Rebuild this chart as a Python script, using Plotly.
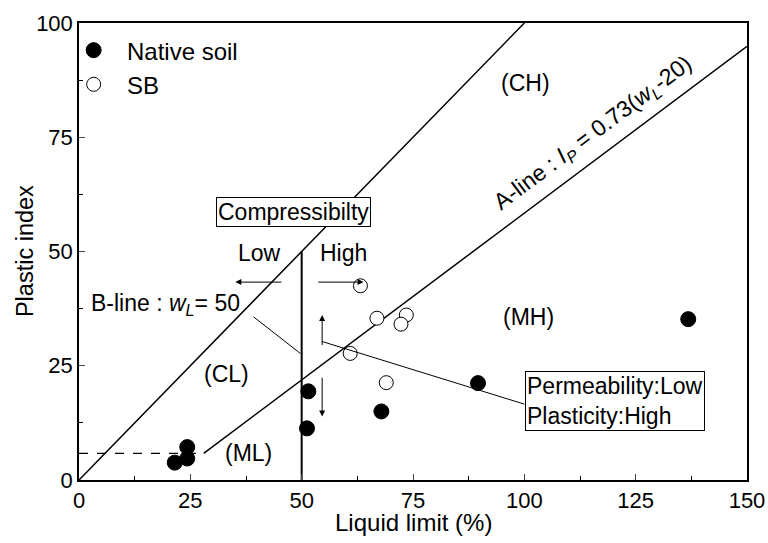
import plotly.graph_objects as go
import numpy as np

# Data
native_ll = [21.5, 24.3, 24.3, 51.2, 51.5, 67.9, 89.6, 136.8]
native_pi = [3.8, 7.2, 4.7, 11.3, 19.4, 15.0, 21.2, 35.2]
sb_ll = [63.2, 66.9, 73.5, 72.3, 60.9, 69.0]
sb_pi = [42.5, 35.4, 36.1, 34.1, 27.7, 21.3]

x_ticks = [0, 25, 50, 75, 100, 125, 150]
y_ticks = [0, 25, 50, 75, 100]

FONT = "Liberation Sans, Arial, sans-serif"
FS = 23
TFS = 22

fig = go.Figure()

# U-like line: I_P = w_L
ux = np.array([0, 100])
fig.add_trace(go.Scatter(x=ux, y=ux, mode="lines", line=dict(color="black", width=1.5),
                         showlegend=False, hoverinfo="skip"))
# A-line
ax_ = np.array([28.0, 150.0])
fig.add_trace(go.Scatter(x=ax_, y=0.73 * (ax_ - 20), mode="lines",
                         line=dict(color="black", width=1.5), showlegend=False, hoverinfo="skip"))
# dashed horizontal line
ylim = 0.73 * (28 - 20)
fig.add_trace(go.Scatter(x=[0, 28], y=[ylim, ylim], mode="lines",
                         line=dict(color="black", width=1.2, dash="dash"), showlegend=False, hoverinfo="skip"))
# B-line
fig.add_trace(go.Scatter(x=[50, 50], y=[0, 50], mode="lines",
                         line=dict(color="black", width=2), showlegend=False, hoverinfo="skip"))

# Data traces
fig.add_trace(go.Scatter(x=native_ll, y=native_pi, mode="markers", name="&nbsp;&nbsp;Native soil",
                         marker=dict(symbol="circle", size=15, color="black",
                                     line=dict(color="black", width=1))))
fig.add_trace(go.Scatter(x=sb_ll, y=sb_pi, mode="markers", name="&nbsp;&nbsp;SB",
                         marker=dict(symbol="circle", size=14, color="white",
                                     line=dict(color="black", width=1))))

shapes = [
    # leader lines
    dict(type="line", xref="x", yref="y", x0=39.2, y0=35.7, x1=49.7, y1=27.7,
         line=dict(color="black", width=1)),
    dict(type="line", xref="x", yref="y", x0=54.6, y0=30.3, x1=100, y1=16.6,
         line=dict(color="black", width=1)),
]

annotations = []

def arrow(x0, y0, x1, y1):
    annotations.append(dict(x=x1, y=y1, ax=x0, ay=y0, xref="x", yref="y", axref="x", ayref="y",
                            text="", showarrow=True, arrowhead=2, arrowsize=1.2, arrowwidth=1,
                            arrowcolor="black", standoff=0, startstandoff=0))

arrow(45.8, 43.3, 35.1, 43.3)
arrow(53.4, 43.3, 63.9, 43.3)
arrow(54.6, 29.2, 54.6, 36.1)
arrow(54.6, 22.7, 54.6, 13.9)

def label(x, y, text, **kw):
    d = dict(x=x, y=y, xref="x", yref="y", text=text, showarrow=False,
             font=dict(family=FONT, size=FS, color="black"))
    d.update(kw)
    annotations.append(d)

label(100.2, 86.8, "(CH)")
label(100.9, 35.7, "(MH)")
label(33.2, 23.3, "(CL)")
label(38.1, 6.0, "(ML)")
label(40.5, 49.6, "Low")
label(59.4, 49.6, "High")
label(115.5, 75.9, "A-line : <i>I</i><sub><i>P</i></sub> = 0.73(<i>w</i><sub><i>L</i></sub>-20)",
      textangle=-36.8)
label(19.5, 38.4, "B-line : <i>w</i><sub><i>L</i></sub>= 50")
label(48.2, 58.7, "Compressibilty", bordercolor="black", borderwidth=1, borderpad=1,
      bgcolor="white")
label(120.4, 17.3, "Permeability:Low<br>Plasticity:High", align="left",
      bordercolor="black", borderwidth=1, borderpad=1, bgcolor="white")

# axis titles
annotations.append(dict(x=0.5, y=-0.094, xref="paper", yref="paper", text="Liquid limit (%)",
                        showarrow=False, xanchor="center", yanchor="middle",
                        font=dict(family=FONT, size=24, color="black")))
annotations.append(dict(x=-0.0815, y=0.5, xref="paper", yref="paper", text="Plastic index",
                        showarrow=False, xanchor="center", yanchor="middle", textangle=-90,
                        font=dict(family=FONT, size=23.5, color="black")))

fig.update_layout(
    width=768, height=543,
    margin=dict(l=78.5, r=21, t=22.5, b=63),
    plot_bgcolor="white", paper_bgcolor="white",
    font=dict(family=FONT, size=FS, color="black"),
    shapes=shapes, annotations=annotations,
    legend=dict(x=-0.008, y=0.989, xanchor="left", yanchor="top", bgcolor="rgba(0,0,0,0)",
                font=dict(family=FONT, size=24), itemwidth=30, tracegroupgap=0),
    showlegend=True,
)
fig.update_xaxes(range=[0, 150], tickvals=x_ticks, ticks="inside", ticklen=6, tickwidth=1,
                 tickfont=dict(size=TFS), automargin=False,
                 showline=True, linecolor="black", linewidth=1.5, mirror=True, showgrid=False,
                 zeroline=False,
                 minor=dict(tickvals=[12.5, 37.5, 62.5, 87.5, 112.5, 137.5], ticks="inside",
                            ticklen=4, tickcolor="black"))
fig.update_yaxes(range=[0, 100], tickvals=y_ticks, ticks="inside", ticklen=6, tickwidth=1,
                 tickfont=dict(size=TFS), automargin=False,
                 showline=True, linecolor="black", linewidth=1.5, mirror=True, showgrid=False,
                 zeroline=False,
                 minor=dict(tickvals=[12.5, 37.5, 62.5, 87.5], ticks="inside",
                            ticklen=4, tickcolor="black"))

fig.write_html("out.html")
